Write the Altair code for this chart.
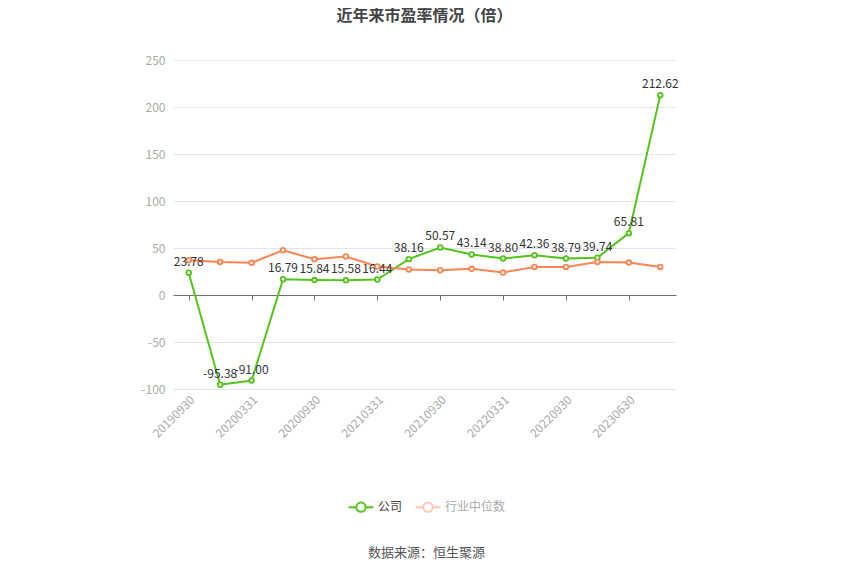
import altair as alt
import pandas as pd

dates = ["20190930", "20191231", "20200331", "20200630", "20200930", "20201231",
         "20210331", "20210630", "20210930", "20211231", "20220331", "20220630",
         "20220930", "20230331", "20230630", "20230930"]
company = [23.78, -95.38, -91.00, 16.79, 15.84, 15.58, 16.44, 38.16, 50.57,
           43.14, 38.80, 42.36, 38.79, 39.74, 65.81, 212.62]
industry = [37.0, 35.2, 34.2, 47.6, 38.0, 40.9, 30.3, 27.1, 26.4, 27.8, 24.0,
            29.9, 29.9, 35.2, 34.5, 29.9]
tick_labels = ["20190930", "20200331", "20200930", "20210331", "20210930",
               "20220331", "20220930", "20230630"]
series_names = ["公司", "行业中位数"]
colors = ["#52c41a", "#ff8452"]

rows = []
for d, c, i in zip(dates, company, industry):
    rows.append({"date": d, "series": series_names[0], "value": c})
    rows.append({"date": d, "series": series_names[1], "value": i})
df = pd.DataFrame(rows)
df_c = pd.DataFrame({"date": dates, "value": company, "label": [f"{v:.2f}" for v in company]})

W, H = 503, 329
PAD_L, PAD_T = 165, 52
zero_offset = H * 100 / 350

legend_symbol = "M-1.6,0L-0.6,0M0.6,0L1.6,0M-0.6,0A0.6,0.6 0 1,0 0.6,0A0.6,0.6 0 1,0 -0.6,0"

x_enc = alt.X("date:N", sort=dates,
              scale=alt.Scale(type="point", padding=0.5),
              axis=alt.Axis(values=tick_labels, labelAngle=-45, title=None,
                            offset=-zero_offset, labelPadding=zero_offset,
                            domainColor="#6e7079", tickColor="#6e7079", tickSize=5,
                            labelColor="#aaaaaa", labelFontSize=12, grid=False,
                            labelFont="Noto Sans CJK SC"))
y_enc = alt.Y("value:Q", scale=alt.Scale(domain=[-100, 250], nice=False, zero=False),
              axis=alt.Axis(values=[-100, -50, 0, 50, 100, 150, 200, 250], title=None,
                            domain=False, ticks=False, labelColor="#aaaaaa", labelFontSize=12,
                            labelPadding=8, gridColor="#e0e6f1", grid=True,
                            labelExpr="toString(datum.value)",
                            labelFont="Noto Sans CJK SC"))
color_enc = alt.Color("series:N", sort=series_names,
                      scale=alt.Scale(domain=series_names, range=colors),
                      legend=alt.Legend(title=None, orient="none", direction="horizontal",
                                        legendX=179, legendY=438, symbolType=legend_symbol,
                                        symbolSize=240, symbolStrokeWidth=2, symbolFillColor="white",
                                        symbolOpacity=alt.ExprRef("datum.value == '公司' ? 1 : 0.45"),
                                        labelColor=alt.ExprRef("datum.value == '公司' ? '#444444' : '#aaaaaa'"),
                                        labelFontSize=12, labelOffset=8,
                                        labelFont="Noto Sans CJK SC", columnPadding=8,
                                        symbolOffset=0))

lines = alt.Chart(df).mark_line(strokeWidth=2).encode(
    x=x_enc, y=y_enc, color=color_enc, order=alt.Order("series:N"))
points = alt.Chart(df).mark_point(filled=True, fill="white", size=22, strokeWidth=1.8, opacity=1).encode(
    x=alt.X("date:N", sort=dates), y="value:Q",
    stroke=alt.Stroke("series:N", scale=alt.Scale(domain=series_names, range=colors), legend=None))
labels = alt.Chart(df_c).mark_text(dy=-11, fontSize=12, color="#333333",
                                   font="Noto Sans CJK SC").encode(
    x=alt.X("date:N", sort=dates), y="value:Q", text="label:N")
source = alt.Chart(pd.DataFrame({"t": ["数据来源：恒生聚源"]})).mark_text(
    fontSize=13, color="#555555", font="Noto Sans CJK SC").encode(
    x=alt.value(W / 2 + 2), y=alt.value(493), text="t:N")

chart = alt.layer(lines, points, labels, source).properties(
    width=W, height=H,
    title=alt.TitleParams("近年来市盈率情况（倍）", fontSize=16, fontWeight="bold",
                          color="#444444", font="Noto Sans CJK SC", anchor="middle", offset=30),
    autosize=alt.AutoSizeParams(type="none"),
    padding={"left": PAD_L, "top": PAD_T, "right": 834 - PAD_L - W, "bottom": 559 - PAD_T - H},
).configure(background="white").configure_view(stroke=None)

chart.save("out.html", embed_options={"renderer": "svg", "actions": False})
